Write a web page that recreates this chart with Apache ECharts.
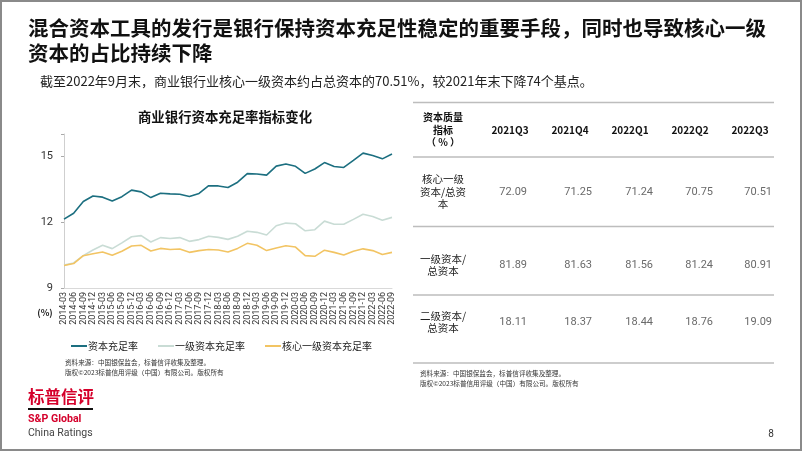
<!DOCTYPE html>
<html>
<head>
<meta charset="utf-8">
<script src="https://cdn.jsdelivr.net/npm/echarts@6/dist/echarts.min.js"></script>
<style>
html,body{margin:0;padding:0;background:#fff;}
#c{width:802px;height:451px;}
</style>
</head>
<body>
<div id="c"></div>
<script>
var categories = ['2014-03','2014-06','2014-09','2014-12','2015-03','2015-06','2015-09','2015-12',
'2016-03','2016-06','2016-09','2016-12','2017-03','2017-06','2017-09','2017-12',
'2018-03','2018-06','2018-09','2018-12','2019-03','2019-06','2019-09','2019-12',
'2020-03','2020-06','2020-09','2020-12','2021-03','2021-06','2021-09','2021-12',
'2022-03','2022-06','2022-09'];
var capitalRatio = [12.13,12.40,12.93,13.18,13.13,12.95,13.15,13.45,13.37,13.11,13.31,13.28,13.26,13.16,13.30,13.65,
13.64,13.57,13.81,14.20,14.18,14.13,14.54,14.64,14.53,14.21,14.41,14.70,14.52,14.48,14.80,15.13,15.02,14.87,15.09];
var tier1Ratio = [10.04,10.14,10.47,10.73,10.94,10.79,11.05,11.33,11.38,11.09,11.29,11.25,11.29,11.12,11.20,11.35,
11.30,11.21,11.35,11.58,11.53,11.41,11.83,11.95,11.92,11.60,11.65,12.04,11.90,11.90,12.12,12.35,12.25,12.08,12.21];
var coreTier1Ratio = [10.02,10.11,10.47,10.56,10.64,10.49,10.67,10.91,10.94,10.68,10.80,10.75,10.77,10.62,10.70,10.75,
10.73,10.64,10.80,11.03,10.94,10.70,10.82,10.92,10.86,10.47,10.44,10.72,10.62,10.50,10.67,10.78,10.70,10.52,10.62];
var seriesNames = ['资本充足率','一级资本充足率','核心一级资本充足率'];
var yTicks = {min: 9, max: 16, interval: 3};
var yLabels = [9, 12, 15];

var tableHeaders = ['2021Q3','2021Q4','2022Q1','2022Q2','2022Q3'];
var tableRowLabels = ['核心一级\n资本/总资\n本','一级资本/\n总资本','二级资本/\n总资本'];
var rowCore = ['72.09','71.25','71.24','70.75','70.51'];
var rowTier1 = ['81.89','81.63','81.56','81.24','80.91'];
var rowTier2 = ['18.11','18.37','18.44','18.76','19.09'];

var CJK = '"Noto Sans CJK SC", "Noto Sans", sans-serif';
var chart = echarts.init(document.getElementById('c'), null, {renderer:'canvas'});

var g = [];
// border
g.push({type:'rect', shape:{x:1,y:1,width:800,height:449}, style:{fill:'none', stroke:'#8a8a8a', lineWidth:2}, silent:true});
// title
g.push({type:'text', left:28, top:16, style:{text:'混合资本工具的发行是银行保持资本充足性稳定的重要手段，同时也导致核心一级\n资本的占比持续下降', font:'bold 20.5px '+CJK, fill:'#111', lineHeight:25}});
g.push({type:'text', left:40, top:75, style:{text:'截至2022年9月末，商业银行业核心一级资本约占总资本的70.51%，较2021年末下降74个基点。', font:'13px '+CJK, fill:'#222'}});
// chart title
g.push({type:'text', x:225, y:117, style:{text:'商业银行资本充足率指标变化', font:'bold 13.4px '+CJK, fill:'#111', align:'center', verticalAlign:'middle'}});
// (%)
g.push({type:'text', x:45, y:313, style:{text:'(%)', font:'bold 9px '+CJK, fill:'#222', align:'center', verticalAlign:'middle'}});
// chart source
g.push({type:'text', left:65, top:357, style:{text:'资料来源：中国银保监会，标普信评收集及整理。\n版权©2023标普信用评级（中国）有限公司。版权所有', font:'6.6px '+CJK, fill:'#333', lineHeight:10}});
// table lines
var lineYs = [102.5,157,226.5,295,363];
lineYs.forEach(function(y){
  g.push({type:'line', shape:{x1:413,y1:y,x2:774,y2:y}, style:{stroke:'#bdbdbd', lineWidth:1.5}, silent:true});
});
// table header
g.push({type:'text', x:443, y:130, style:{text:'资本质量\n指标\n（ % ）', font:'bold 10px '+CJK, fill:'#111', align:'center', verticalAlign:'middle', lineHeight:12.5}});
var colRight = [527,592,653,713,772];
var colCenter = [510,570,630,690,750];
tableHeaders.forEach(function(h,i){
  g.push({type:'text', x:colCenter[i], y:130, style:{text:h, font:'bold 10px '+CJK, fill:'#111', align:'center', verticalAlign:'middle'}});
});
var rowY = [192,265,322];
var rows = [rowCore,rowTier1,rowTier2];
rows.forEach(function(r,ri){
  g.push({type:'text', x:443, y:rowY[ri], style:{text:tableRowLabels[ri], font:'10.5px '+CJK, fill:'#222', align:'center', verticalAlign:'middle', lineHeight:12.5}});
  r.forEach(function(v,ci){
    g.push({type:'text', x:colRight[ci], y:rowY[ri], style:{text:v, font:'11px Roboto, "Noto Sans", sans-serif', fill:'#6a6a6a', align:'right', verticalAlign:'middle'}});
  });
});
g.push({type:'text', left:420, top:368, style:{text:'资料来源：中国银保监会，标普信评收集及整理。\n版权©2023标普信用评级（中国）有限公司。版权所有', font:'6.6px '+CJK, fill:'#333', lineHeight:10}});
// logo
g.push({type:'text', x:28, y:397, style:{text:'标普信评', font:'bold 16.5px '+CJK, fill:'#d5002b', verticalAlign:'middle'}});
g.push({type:'rect', shape:{x:28,y:408,width:65,height:2}, style:{fill:'#111'}, silent:true});
g.push({type:'text', x:28, y:419.5, style:{text:'S&P Global', font:'bold 10.6px Roboto, sans-serif', fill:'#d5002b', verticalAlign:'middle'}});
g.push({type:'text', x:28, y:433.5, style:{text:'China Ratings', font:'10.5px Roboto, sans-serif', fill:'#444', verticalAlign:'middle'}});
g.push({type:'text', x:771, y:434, style:{text:'8', font:'10px Roboto, sans-serif', fill:'#333', align:'center', verticalAlign:'middle'}});

var colors = ['#1c6f80','#c9dcd5','#f2c463'];
function mk(name, data, color){
  return {name:name, type:'line', data:data, showSymbol:false, symbol:'none', smooth:false,
    lineStyle:{color:color, width:1.6}, itemStyle:{color:color}};
}

chart.setOption({
  animation:false,
  backgroundColor:'#fff',
  grid:{left:64, right:410, top:134, bottom:163, containLabel:false},
  legend:{left:66, top:336, itemWidth:16, itemHeight:2, itemGap:20, icon:'rect',
    textStyle:{fontFamily:CJK, fontSize:10, color:'#222', padding:[0,0,0,-4]},
    data:seriesNames},
  xAxis:{type:'category', data:categories, boundaryGap:false,
    axisLine:{show:true, lineStyle:{color:'#d9d9d9'}}, axisTick:{show:false},
    axisLabel:{rotate:90, interval:0, fontSize:9, color:'#333', fontFamily:'Roboto, "Noto Sans", sans-serif', margin:4}},
  yAxis:{type:'value', min:yTicks.min, max:yTicks.max, interval:yTicks.interval,
    splitLine:{show:false},
    axisLine:{show:true, lineStyle:{color:'#cfcfcf'}},
    axisTick:{show:true, length:3, lineStyle:{color:'#aaa'}},
    axisLabel:{fontSize:11, color:'#333', margin:11, fontFamily:'Roboto, "Noto Sans", sans-serif',
      formatter:function(v){ return yLabels.indexOf(v) >= 0 ? String(v) : ''; }}},
  series:[mk(seriesNames[0], capitalRatio, colors[0]), mk(seriesNames[1], tier1Ratio, colors[1]), mk(seriesNames[2], coreTier1Ratio, colors[2])],
  graphic:g
});
</script>
</body>
</html>
